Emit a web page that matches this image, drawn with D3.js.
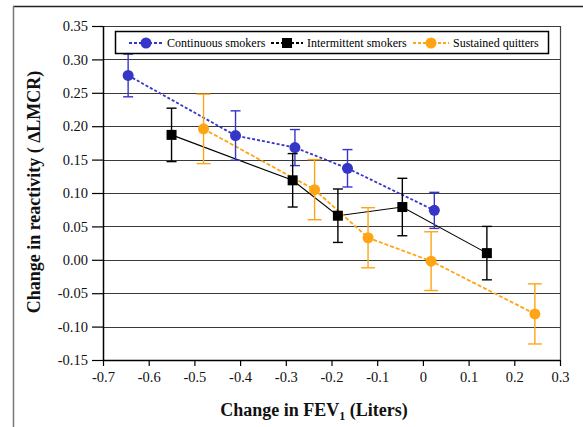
<!DOCTYPE html>
<html>
<head>
<meta charset="utf-8">
<script src="https://cdn.jsdelivr.net/npm/d3@7"></script>
<style>
  body { margin: 0; background: #fff; }
  svg { display: block; font-family: "Liberation Serif", serif; }
</style>
</head>
<body>
<svg id="chart" width="583" height="427"></svg>
<script>
// values
var fevCont = [-0.645, -0.41, -0.28, -0.165, 0.025];
var reactCont = [0.276, 0.186, 0.168, 0.137, 0.074];
var errCont = [0.032, 0.037, 0.027, 0.028, 0.027];

var fevInt = [-0.55, -0.285, -0.186, -0.045, 0.14];
var reactInt = [0.187, 0.119, 0.066, 0.079, 0.01];
var errInt = [0.04, 0.04, 0.04, 0.043, 0.04];

var fevQuit = [-0.48, -0.237, -0.12, 0.018, 0.245];
var reactQuit = [0.196, 0.105, 0.033, -0.002, -0.081];
var errQuit = [0.052, 0.045, 0.045, 0.044, 0.045];

var xTicks = [-0.7, -0.6, -0.5, -0.4, -0.3, -0.2, -0.1, 0, 0.1, 0.2, 0.3];
var yTicks = [0.35, 0.30, 0.25, 0.20, 0.15, 0.10, 0.05, 0.00, -0.05, -0.10, -0.15];

var seriesNames = ["Continuous smokers", "Intermittent smokers", "Sustained quitters"];

function pack(xs, ys, es) {
  return xs.map(function(x, i){ return {x: x, y: ys[i], e: es[i]}; });
}

var series = [
  {name: seriesNames[0], pts: pack(fevCont, reactCont, errCont), color: '#3535c8', dash: '3,2', shape: 'circle', cap: 10},
  {name: seriesNames[1], pts: pack(fevInt, reactInt, errInt), color: '#000', dash: null, shape: 'square', cap: 10},
  {name: seriesNames[2], pts: pack(fevQuit, reactQuit, errQuit), color: '#ffa515', dash: '4,2', shape: 'circle', cap: 14}
];

var svg = d3.select('#chart');

var pLeft = 103, pRight = 560, pTop = 26, pBottom = 360;

var x = d3.scaleLinear().domain([-0.7, 0.3]).range([pLeft, pRight]);
var y = d3.scaleLinear().domain([-0.15, 0.35]).range([pBottom, pTop]);

// hyphen minus like the original
var fmt2 = d3.format('.2f'), fmt1 = d3.format('.1f');
function hy(s){ return s.replace('\u2212', '-'); }

// outer frame
svg.append('line').attr('x1', 13).attr('x2', 583).attr('y1', 6.5).attr('y2', 6.5)
   .style('stroke', '#222').style('stroke-width', 1.5);
svg.append('line').attr('x1', 13.5).attr('x2', 13.5).attr('y1', 6).attr('y2', 427)
   .style('stroke', '#777').style('stroke-width', 1.5);

// gridlines
svg.append('g').selectAll('line')
   .data(yTicks.slice(0, yTicks.length - 1))
   .enter().append('line')
   .attr('x1', pLeft).attr('x2', pRight)
   .attr('y1', function(d){ return Math.round(y(d)) + 0.5; })
   .attr('y2', function(d){ return Math.round(y(d)) + 0.5; })
   .style('stroke', '#3a3a3a').style('stroke-width', 1.2);

// right border
svg.append('line').attr('x1', pRight + 0.5).attr('x2', pRight + 0.5).attr('y1', pTop).attr('y2', pBottom)
   .style('stroke', '#444').style('stroke-width', 1.2);

// axes
var yAxis = d3.axisLeft(y).tickValues(yTicks).tickFormat(function(d){ return hy(fmt2(d)); }).tickSize(11).tickPadding(4);
var gy = svg.append('g').attr('transform', 'translate(' + pLeft + ',0)').call(yAxis);
var xAxis = d3.axisBottom(x).tickValues(xTicks).tickFormat(function(d){ return d === 0 ? '0' : hy(fmt1(d)); }).tickSize(6).tickPadding(6);
var gx = svg.append('g').attr('transform', 'translate(0,' + pBottom + ')').call(xAxis);

[gx, gy].forEach(function(g){
  g.select('.domain').style('stroke', '#000').style('stroke-width', 1.5);
  g.selectAll('.tick line').style('stroke', '#000').style('stroke-width', 1.2);
  g.selectAll('.tick text').style('font-family', '"Liberation Serif", serif')
   .style('font-size', '14.5px').style('fill', '#111');
});
gy.select('.domain').attr('d', 'M0.5,' + pTop + 'V' + pBottom);
gx.select('.domain').attr('d', 'M' + pLeft + ',0.5H' + pRight);

// lines
var line = d3.line().x(function(d){ return x(d.x); }).y(function(d){ return y(d.y); });

series.forEach(function(s){
  svg.append('path').datum(s.pts).attr('d', line)
   .style('fill', 'none').style('stroke', s.color)
   .style('stroke-width', s.dash ? 1.8 : 1.1)
   .style('stroke-dasharray', s.dash);
});

series.forEach(function(s){
  var g = svg.append('g');
  var eb = g.selectAll('.eb').data(s.pts).enter().append('g');
  eb.append('line')
    .attr('x1', function(d){ return x(d.x); }).attr('x2', function(d){ return x(d.x); })
    .attr('y1', function(d){ return y(d.y + d.e); }).attr('y2', function(d){ return y(d.y - d.e); })
    .style('stroke', s.color).style('stroke-width', 1.4);
  [1, -1].forEach(function(sg){
    eb.append('line')
      .attr('x1', function(d){ return x(d.x) - s.cap / 2; }).attr('x2', function(d){ return x(d.x) + s.cap / 2; })
      .attr('y1', function(d){ return y(d.y + sg * d.e); }).attr('y2', function(d){ return y(d.y + sg * d.e); })
      .style('stroke', s.color).style('stroke-width', 1.4);
  });
  if (s.shape === 'circle') {
    g.selectAll('.m').data(s.pts).enter().append('circle')
     .attr('cx', function(d){ return x(d.x); }).attr('cy', function(d){ return y(d.y); })
     .attr('r', 5.5).style('fill', s.color);
  } else {
    g.selectAll('.m').data(s.pts).enter().append('rect')
     .attr('x', function(d){ return x(d.x) - 5; }).attr('y', function(d){ return y(d.y) - 5; })
     .attr('width', 10).attr('height', 10).style('fill', s.color);
  }
});

// legend
var lg = svg.append('g');
lg.append('rect').attr('x', 115.5).attr('y', 31.5).attr('width', 433).attr('height', 22)
  .style('fill', '#fff').style('stroke', '#000').style('stroke-width', 1.5);

var legendX = [129, 271, 413];
var legendLen = [34, 32, 36];
series.forEach(function(s, i){
  var lx = legendX[i];
  lg.append('line').attr('x1', lx).attr('x2', lx + legendLen[i]).attr('y1', 43).attr('y2', 43)
    .style('stroke', s.color).style('stroke-width', 1.8).style('stroke-dasharray', '3,2');
  var mx = lx + legendLen[i] / 2;
  if (s.shape === 'circle') {
    lg.append('circle').attr('cx', mx).attr('cy', 43).attr('r', 5.5).style('fill', s.color);
  } else {
    lg.append('rect').attr('x', mx - 5).attr('y', 38).attr('width', 10).attr('height', 10).style('fill', s.color);
  }
  lg.append('text').attr('x', lx + legendLen[i] + 4).attr('y', 47)
    .style('font-size', '12px').style('fill', '#000').text(s.name);
});

// axis titles
var xt = svg.append('text').attr('x', 314).attr('y', 416).attr('text-anchor', 'middle')
  .style('font-size', '18px').style('font-weight', 'bold').style('fill', '#111');
xt.append('tspan').text('Change in FEV');
xt.append('tspan').attr('dy', 4).style('font-size', '12px').text('1');
xt.append('tspan').attr('dy', -4).text(' (Liters)');

svg.append('text').attr('transform', 'translate(40,192) rotate(-90)').attr('text-anchor', 'middle')
  .style('font-size', '18px').style('font-weight', 'bold').style('fill', '#111')
  .text('Change in reactivity ( \u2206LMCR)');
</script>
</body>
</html>
